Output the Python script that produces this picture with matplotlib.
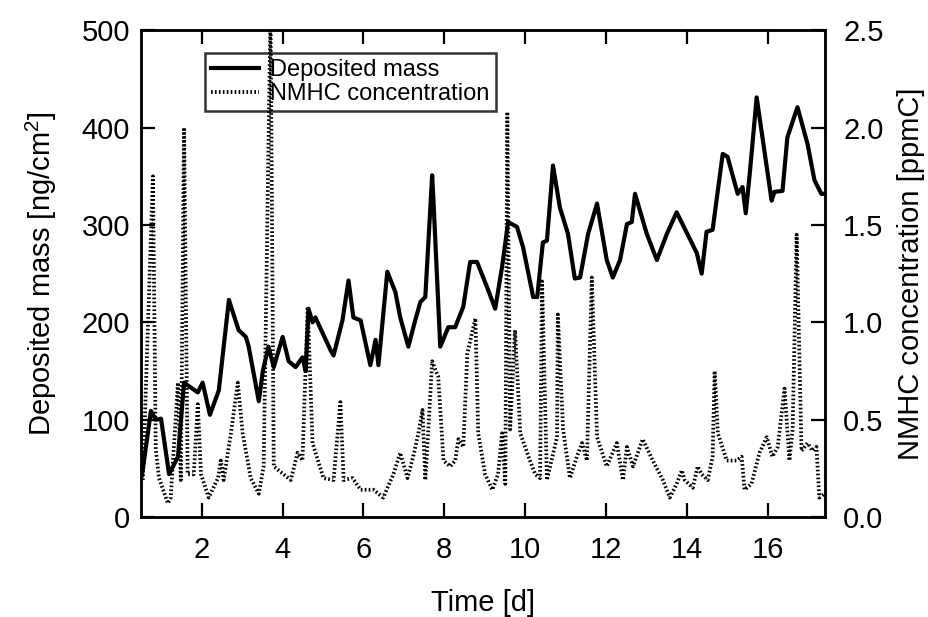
import matplotlib
matplotlib.use("Agg")
import matplotlib.pyplot as plt

plt.rcParams['font.family'] = ['Liberation Sans', 'DejaVu Sans']
plt.rcParams['mathtext.fontset'] = 'custom'
plt.rcParams['mathtext.rm'] = 'Liberation Sans'

# Deposited mass [ng/cm2] vs time [d]
mass_t = [0.52, 0.74, 0.86, 0.99, 1.19, 1.41, 1.56, 1.90, 2.02, 2.20, 2.42, 2.67, 2.91, 3.09,
          3.16, 3.41, 3.51, 3.65, 3.78, 4.00, 4.15, 4.32, 4.49, 4.57, 4.64, 4.74, 4.81, 5.19,
          5.26, 5.48, 5.63, 5.75, 5.93, 6.17, 6.30, 6.37, 6.59, 6.79, 6.91, 7.11, 7.28, 7.41,
          7.53, 7.70, 7.73, 7.90, 8.10, 8.27, 8.47, 8.64, 8.81, 9.06, 9.26, 9.43, 9.58, 9.80,
          9.95, 10.20, 10.30, 10.44, 10.54, 10.69, 10.86, 11.06, 11.23, 11.36, 11.56, 11.78,
          12.02, 12.17, 12.35, 12.52, 12.64, 12.72, 13.01, 13.26, 13.51, 13.75, 14.25, 14.37,
          14.49, 14.64, 14.89, 15.01, 15.26, 15.38, 15.46, 15.56, 15.73, 16.10, 16.17, 16.37,
          16.49, 16.74, 16.99, 17.16, 17.33, 17.41]
mass_v = [43, 109, 100, 101, 44, 62, 138, 128, 138, 105, 130, 223, 192, 185,
          175, 119, 150, 175, 154, 185, 160, 154, 164, 150, 214, 200, 205, 171,
          166, 202, 243, 205, 202, 156, 182, 156, 252, 231, 205, 175, 202, 221,
          226, 351, 327, 175, 195, 195, 216, 262, 262, 236, 214, 257, 303, 298,
          277, 226, 226, 282, 284, 361, 318, 291, 245, 246, 291, 322,
          264, 246, 264, 301, 303, 332, 291, 264, 291, 313, 271, 250,
          293, 295, 373, 370, 332, 339, 312, 353, 431, 325, 334, 335,
          390, 421, 383, 346, 332, 332]

# NMHC concentration [ppmC] vs time [d]
nmhc_t = [0.54, 0.79, 0.86, 0.94, 1.16, 1.23, 1.41, 1.48, 1.56, 1.65, 1.80, 1.90, 1.98, 2.17,
          2.40, 2.47, 2.54, 2.72, 2.89, 3.01, 3.21, 3.41, 3.53, 3.70, 3.78, 4.02, 4.20, 4.37,
          4.49, 4.62, 4.74, 5.01, 5.26, 5.43, 5.51, 5.73, 5.93, 6.25, 6.49, 6.74, 6.91, 7.09,
          7.23, 7.36, 7.46, 7.53, 7.60, 7.70, 7.85, 7.98, 8.15, 8.27, 8.35, 8.47, 8.57, 8.77,
          8.84, 9.01, 9.19, 9.33, 9.43, 9.51, 9.56, 9.63, 9.75, 9.88, 10.12, 10.25, 10.37,
          10.42, 10.54, 10.79, 10.81, 10.94, 11.11, 11.28, 11.41, 11.53, 11.65, 11.78, 12.02,
          12.27, 12.42, 12.52, 12.67, 12.91, 13.16, 13.41, 13.58, 13.75, 13.88, 13.95, 14.15,
          14.27, 14.37, 14.52, 14.64, 14.69, 14.77, 14.99, 15.23, 15.36, 15.43, 15.60, 15.80,
          15.98, 16.12, 16.25, 16.42, 16.54, 16.62, 16.72, 16.84, 16.99, 17.11, 17.21, 17.28,
          17.41]
nmhc_v = [0.19, 1.75, 0.35, 0.20, 0.07, 0.10, 0.69, 0.19, 2.00, 0.22, 0.22, 0.58, 0.22, 0.10,
          0.20, 0.29, 0.19, 0.43, 0.69, 0.43, 0.20, 0.12, 0.26, 2.60, 0.26, 0.22, 0.19, 0.33,
          0.29, 1.08, 0.38, 0.20, 0.19, 0.59, 0.19, 0.20, 0.14, 0.14, 0.10, 0.22, 0.33, 0.20,
          0.31, 0.43, 0.55, 0.19, 0.43, 0.80, 0.72, 0.29, 0.26, 0.29, 0.40, 0.36, 0.84, 1.02,
          0.43, 0.22, 0.14, 0.22, 0.43, 0.17, 2.08, 0.45, 0.96, 0.43, 0.29, 0.22, 0.20,
          1.21, 0.19, 0.41, 1.04, 0.45, 0.20, 0.31, 0.38, 0.29, 1.23, 0.41, 0.26,
          0.38, 0.19, 0.36, 0.26, 0.40, 0.29, 0.19, 0.10, 0.17, 0.24, 0.19, 0.15,
          0.26, 0.22, 0.19, 0.31, 0.75, 0.43, 0.29, 0.29, 0.31, 0.14, 0.17, 0.33,
          0.41, 0.31, 0.36, 0.66, 0.29, 0.45, 1.45, 0.34, 0.38, 0.34, 0.36, 0.10,
          0.12]

x_ticks = [2, 4, 6, 8, 10, 12, 14, 16]
left_ticks = [0, 100, 200, 300, 400, 500]
right_ticks = [0.0, 0.5, 1.0, 1.5, 2.0, 2.5]

fig = plt.figure(figsize=(9.29, 6.17), dpi=100)
ax = fig.add_axes([0.152, 0.162, 0.736, 0.789])
ax2 = ax.twinx()

l1, = ax.plot(mass_t, mass_v, color='black', lw=3.0, solid_joinstyle='round',
              label='Deposited mass', zorder=3)
l2, = ax2.plot(nmhc_t, nmhc_v, color='black', lw=2.7, linestyle=(0, (0.45, 0.6)),
               label='NMHC concentration')

ax.set_xlim(0.5, 17.42)
ax.set_ylim(0, 500)
ax2.set_ylim(0, 2.5)
ax.set_xticks(x_ticks)
ax.set_yticks(left_ticks)
ax2.set_yticks(right_ticks)
ax2.set_yticklabels([f'{v:.1f}' for v in right_ticks])

for a in (ax, ax2):
    for s in a.spines.values():
        s.set_linewidth(1.8)
ax.tick_params(axis='both', direction='in', length=10, width=1.6, labelsize=21, pad=8,
               top=True)
ax.tick_params(axis='x', pad=14)
ax2.tick_params(axis='y', direction='in', length=10, width=1.6, labelsize=21, pad=13)

ax.set_xlabel('Time [d]', fontsize=21, labelpad=18)
ax.set_ylabel('Deposited mass [ng/cm$^2$]', fontsize=21, labelpad=16)
ax2.set_ylabel('NMHC concentration [ppmC]', fontsize=21, labelpad=10)

leg = ax.legend(handles=[l1, l2], loc='upper left', bbox_to_anchor=(0.094, 0.953),
                fontsize=17, frameon=True, fancybox=False, edgecolor='black',
                borderpad=0.25, labelspacing=0.1, handlelength=2.0, handletextpad=0.5,
                borderaxespad=0)
leg.get_frame().set_linewidth(1.8)

fig.savefig('out.png', dpi=100)
